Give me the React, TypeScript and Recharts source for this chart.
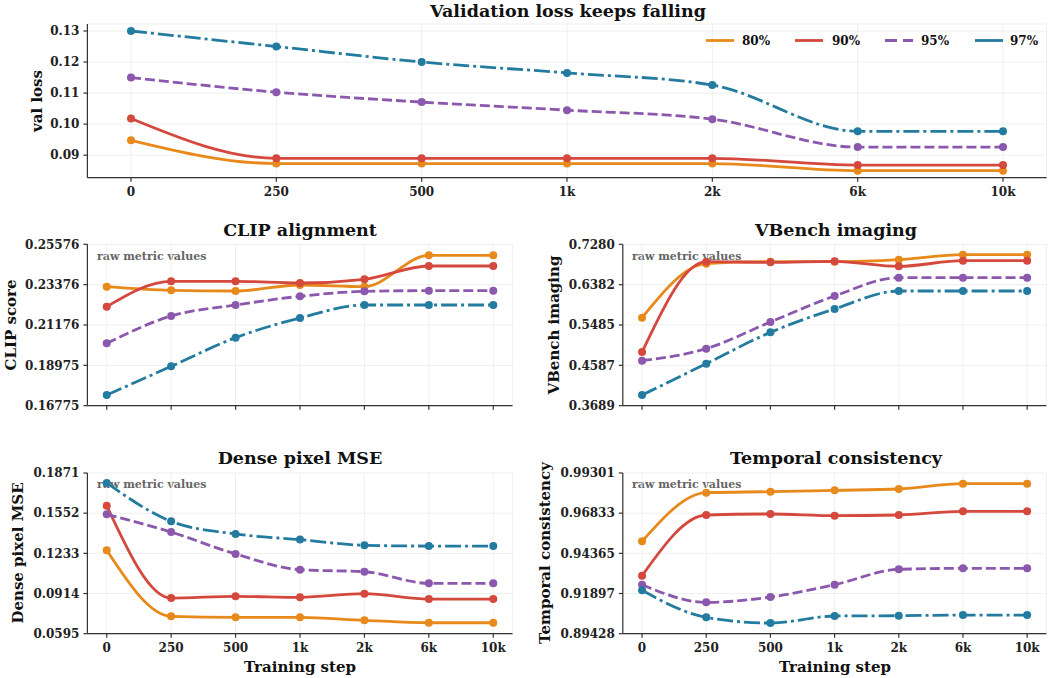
import React from "react";
import { LineChart, Line, XAxis, YAxis, CartesianGrid } from "recharts";

const steps = ["0", "250", "500", "1k", "2k", "6k", "10k"];
const seriesNames = ["80%", "90%", "95%", "97%"];
const seriesKeys = ["s80", "s90", "s95", "s97"];
const colors = ["#E8891B", "#D4483D", "#8B58AE", "#247BA0"];
const dashes = [undefined, undefined, "10 4", "16 4 3 4"];

// Validation loss
const valLoss80 = [0.0948, 0.0873, 0.0873, 0.0873, 0.0873, 0.085, 0.085];
const valLoss90 = [0.1018, 0.089, 0.089, 0.089, 0.089, 0.0868, 0.0868];
const valLoss95 = [0.115, 0.1103, 0.1071, 0.1045, 0.1016, 0.0926, 0.0926];
const valLoss97 = [0.13, 0.125, 0.12, 0.1165, 0.1126, 0.0977, 0.0977];
const valLossTicks = [0.09, 0.1, 0.11, 0.12, 0.13];
const valLossLabels = ["0.09", "0.10", "0.11", "0.12", "0.13"];

// CLIP
const clip80 = [0.23267, 0.23067, 0.2303, 0.23358, 0.23267, 0.24976, 0.24976];
const clip90 = [0.22176, 0.23558, 0.23558, 0.23467, 0.23667, 0.24394, 0.24394];
const clip95 = [0.20175, 0.21666, 0.22267, 0.22739, 0.23012, 0.23048, 0.23048];
const clip97 = [0.17357, 0.18921, 0.20485, 0.21557, 0.22267, 0.22267, 0.22267];
const clipTicks = [0.16775, 0.18975, 0.21176, 0.23376, 0.25576];
const clipLabels = ["0.16775", "0.18975", "0.21176", "0.23376", "0.25576"];

// VBench
const vb80 = [0.5648, 0.685, 0.6894, 0.6894, 0.6939, 0.705, 0.705];
const vb90 = [0.4883, 0.6894, 0.6879, 0.6902, 0.679, 0.6916, 0.6916];
const vb95 = [0.4691, 0.4958, 0.5551, 0.613, 0.6538, 0.6538, 0.6538];
const vb97 = [0.3926, 0.4624, 0.5321, 0.5841, 0.6241, 0.6241, 0.6241];
const vbTicks = [0.3689, 0.4587, 0.5485, 0.6382, 0.728];
const vbLabels = ["0.3689", "0.4587", "0.5485", "0.6382", "0.7280"];

// Dense pixel MSE
const mse80 = [0.1257, 0.0733, 0.0725, 0.0725, 0.0701, 0.0682, 0.0682];
const mse90 = [0.1611, 0.0878, 0.0892, 0.0884, 0.0913, 0.087, 0.087];
const mse95 = [0.1543, 0.1402, 0.1228, 0.1103, 0.1087, 0.0995, 0.0995];
const mse97 = [0.1792, 0.1487, 0.1387, 0.1342, 0.1297, 0.1291, 0.1291];
const mseTicks = [0.0595, 0.0914, 0.1233, 0.1552, 0.1871];
const mseLabels = ["0.0595", "0.0914", "0.1233", "0.1552", "0.1871"];

// Temporal consistency
const tc80 = [0.95102, 0.98093, 0.98154, 0.98236, 0.98318, 0.98646, 0.98646];
const tc90 = [0.92992, 0.9672, 0.96782, 0.96679, 0.9672, 0.96945, 0.96945];
const tc95 = [0.92439, 0.91353, 0.91681, 0.92439, 0.93381, 0.93443, 0.93443];
const tc97 = [0.92091, 0.90432, 0.90083, 0.90514, 0.90534, 0.90575, 0.90575];
const tcTicks = [0.89428, 0.91897, 0.94365, 0.96833, 0.99301];
const tcLabels = ["0.89428", "0.91897", "0.94365", "0.96833", "0.99301"];

const FONT = "'DejaVu Serif', serif";

function buildData(series: number[][]) {
  return steps.map((_, i) => {
    const row: any = { x: i };
    series.forEach((s, j) => (row[seriesKeys[j]] = s[i]));
    return row;
  });
}

type PanelProps = {
  left: number;
  top: number;
  width: number;
  height: number;
  plotLeft: number;
  plotRight: number;
  plotTop: number;
  plotBottom: number;
  series: number[][];
  yTicks: number[];
  yLabels: string[];
  yDomain: [number, number];
  showXLabels: boolean;
};

function Panel(p: PanelProps) {
  const data = buildData(p.series);
  const yAxisWidth = p.plotLeft - p.left;
  const xAxisHeight = p.top + p.height - p.plotBottom;
  const tickStyle = { fill: "#222", fontSize: 12, fontWeight: "bold", fontFamily: FONT } as any;
  return (
    <div style={{ position: "absolute", left: p.left, top: p.top }}>
      <LineChart
        width={p.width}
        height={p.height}
        data={data}
        margin={{ top: p.plotTop - p.top, right: p.left + p.width - p.plotRight, bottom: 0, left: 0 }}
      >
        <CartesianGrid stroke="#ebebeb" strokeWidth={0.8} />
        <XAxis
          dataKey="x"
          type="number"
          domain={[-0.3, 6.3]}
          ticks={[0, 1, 2, 3, 4, 5, 6]}
          allowDataOverflow
          height={xAxisHeight}
          tickSize={4}
          tickMargin={6}
          stroke="#333"
          strokeWidth={1.2}
          tick={tickStyle}
          tickFormatter={(v: number) => (p.showXLabels ? steps[v] : "")}
          interval={0}
        />
        <YAxis
          type="number"
          domain={p.yDomain}
          ticks={p.yTicks}
          allowDataOverflow
          width={yAxisWidth}
          tickSize={4}
          tickMargin={4}
          stroke="#333"
          strokeWidth={1.2}
          tick={tickStyle}
          tickFormatter={(v: number) => {
            const idx = p.yTicks.indexOf(v);
            return idx >= 0 ? p.yLabels[idx] : "";
          }}
          interval={0}
        />
        {seriesKeys.map((k, j) => (
          <Line
            key={k}
            type="monotone"
            dataKey={k}
            stroke={colors[j]}
            strokeWidth={2.8}
            strokeDasharray={dashes[j]}
            dot={{ r: 4, fill: colors[j], stroke: "none", strokeWidth: 0, strokeDasharray: undefined }}
            activeDot={false}
            isAnimationActive={false}
          />
        ))}
      </LineChart>
    </div>
  );
}

const textBase: React.CSSProperties = {
  position: "absolute",
  fontFamily: FONT,
  fontWeight: "bold",
  color: "#111",
  whiteSpace: "nowrap",
  lineHeight: 1,
};

function Title({ x, y, text }: { x: number; y: number; text: string }) {
  return <div style={{ ...textBase, left: x, top: y, fontSize: 17.5, transform: "translate(-50%, -50%)" }}>{text}</div>;
}

function YLabel({ x, y, text }: { x: number; y: number; text: string }) {
  return (
    <div style={{ ...textBase, left: x, top: y, fontSize: 15, transform: "translate(-50%, -50%) rotate(-90deg)" }}>
      {text}
    </div>
  );
}

function Note({ x, y }: { x: number; y: number }) {
  return (
    <div style={{ ...textBase, left: x, top: y, fontSize: 11, color: "#666", transform: "translateY(-50%)" }}>
      raw metric values
    </div>
  );
}

function Legend() {
  const lineX = [706, 795, 885, 975];
  const textX = [742, 832, 921, 1010];
  return (
    <>
      <svg style={{ position: "absolute", left: 0, top: 0 }} width={1054} height={60}>
        {seriesNames.map((_, j) => (
          <line
            key={j}
            x1={lineX[j]}
            x2={lineX[j] + 28}
            y1={40.5}
            y2={40.5}
            stroke={colors[j]}
            strokeWidth={2.8}
            strokeDasharray={j === 2 ? "12 6" : undefined}
          />
        ))}
      </svg>
      {seriesNames.map((n, j) => (
        <div key={n} style={{ ...textBase, left: textX[j], top: 40.5, fontSize: 12, transform: "translateY(-50%)" }}>
          {n}
        </div>
      ))}
    </>
  );
}

export default function App() {
  return (
    <div
      style={{
        position: "absolute",
        left: 0,
        top: 0,
        width: 1054,
        height: 678,
        background: "#fff",
        overflow: "hidden",
        fontFamily: FONT,
      }}
    >
      <Note x={97} y={256} />
      <Note x={632} y={256} />
      <Note x={97} y={484} />
      <Note x={632} y={484} />

      <Panel
        left={0}
        top={0}
        width={1054}
        height={215}
        plotLeft={87.4}
        plotRight={1046.6}
        plotTop={24}
        plotBottom={177.7}
        series={[valLoss80, valLoss90, valLoss95, valLoss97]}
        yTicks={valLossTicks}
        yLabels={valLossLabels}
        yDomain={[0.08275, 0.13225]}
        showXLabels={true}
      />
      <Panel
        left={0}
        top={215}
        width={527}
        height={200}
        plotLeft={87.4}
        plotRight={512.6}
        plotTop={244.3}
        plotBottom={405.7}
        series={[clip80, clip90, clip95, clip97]}
        yTicks={clipTicks}
        yLabels={clipLabels}
        yDomain={[0.16775, 0.25576]}
        showXLabels={false}
      />
      <Panel
        left={527}
        top={215}
        width={527}
        height={200}
        plotLeft={622.8}
        plotRight={1046.4}
        plotTop={244.3}
        plotBottom={405.7}
        series={[vb80, vb90, vb95, vb97]}
        yTicks={vbTicks}
        yLabels={vbLabels}
        yDomain={[0.3689, 0.728]}
        showXLabels={false}
      />
      <Panel
        left={0}
        top={440}
        width={527}
        height={238}
        plotLeft={87.4}
        plotRight={512.6}
        plotTop={473}
        plotBottom={633.7}
        series={[mse80, mse90, mse95, mse97]}
        yTicks={mseTicks}
        yLabels={mseLabels}
        yDomain={[0.0595, 0.1871]}
        showXLabels={true}
      />
      <Panel
        left={527}
        top={440}
        width={527}
        height={238}
        plotLeft={622.8}
        plotRight={1046.4}
        plotTop={473}
        plotBottom={633.7}
        series={[tc80, tc90, tc95, tc97]}
        yTicks={tcTicks}
        yLabels={tcLabels}
        yDomain={[0.89428, 0.99301]}
        showXLabels={true}
      />

      <Legend />

      <Title x={568} y={12} text="Validation loss keeps falling" />
      <Title x={300} y={231} text="CLIP alignment" />
      <Title x={836} y={231} text="VBench imaging" />
      <Title x={300} y={459} text="Dense pixel MSE" />
      <Title x={836} y={459} text="Temporal consistency" />

      <YLabel x={37} y={101} text="val loss" />
      <YLabel x={11} y={325} text="CLIP score" />
      <YLabel x={554} y={325} text="VBench imaging" />
      <YLabel x={18} y={553} text="Dense pixel MSE" />
      <YLabel x={545} y={553} text="Temporal consistency" />

      <div style={{ ...textBase, left: 300, top: 667, fontSize: 15, transform: "translate(-50%, -50%)" }}>Training step</div>
      <div style={{ ...textBase, left: 835, top: 667, fontSize: 15, transform: "translate(-50%, -50%)" }}>Training step</div>
    </div>
  );
}
